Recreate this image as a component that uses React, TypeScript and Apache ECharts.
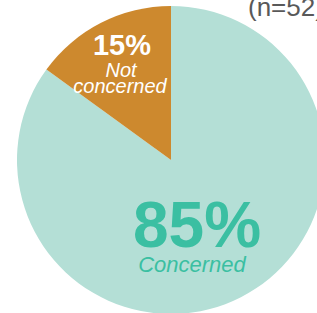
import React, { useEffect, useRef } from "react";
import * as echarts from "echarts";

const categories = ["Concerned", "Not concerned"];
const values = [85, 15];
const percentLabels = ["85%", "15%"];
const sampleNote = "(n=52)";

const FONT = "'Liberation Sans', Arial, sans-serif";

export default function App() {
  const ref = useRef<HTMLDivElement>(null);
  useEffect(() => {
    document.body.style.margin = "0";
    const chart = echarts.init(ref.current!, null, { renderer: "svg" });
    const txt = (text: string, x: number, y: number, font: string, fill: string) => ({
      type: "text",
      x,
      y,
      z: 100,
      style: { text, font, fill, textAlign: "center", textVerticalAlign: "middle" },
    });
    chart.setOption({
      animation: false,
      series: [
        {
          type: "pie",
          center: [171, 160],
          radius: [0, 154],
          startAngle: 90,
          clockwise: true,
          silent: true,
          z: 1,
          label: { show: false },
          labelLine: { show: false },
          itemStyle: { borderWidth: 0 },
          data: categories.map((c, i) => ({
            name: c,
            value: values[i],
            itemStyle: { color: i === 0 ? "#b4dfd6" : "#cd892e" },
          })),
        },
      ],
      graphic: [
        {
          type: "text",
          x: 248,
          y: 7,
          z: 100,
          style: { text: sampleNote, font: `26px ${FONT}`, fill: "#595959", textVerticalAlign: "middle" },
        },
        txt(percentLabels[1], 122, 45, `bold 29px ${FONT}`, "#ffffff"),
        txt("Not", 121, 70, `italic 20px ${FONT}`, "#ffffff"),
        txt("concerned", 120, 86, `italic 20px ${FONT}`, "#ffffff"),
        txt(percentLabels[0], 197, 225, `bold 64px ${FONT}`, "#3bbfa2"),
        txt(categories[0], 192, 264, `italic 22px ${FONT}`, "#3bbfa2"),
      ],
    });
    return () => chart.dispose();
  }, []);
  return (
    <div
      ref={ref}
      style={{ position: "absolute", left: 0, top: 0, width: 317, height: 313 }}
    />
  );
}
